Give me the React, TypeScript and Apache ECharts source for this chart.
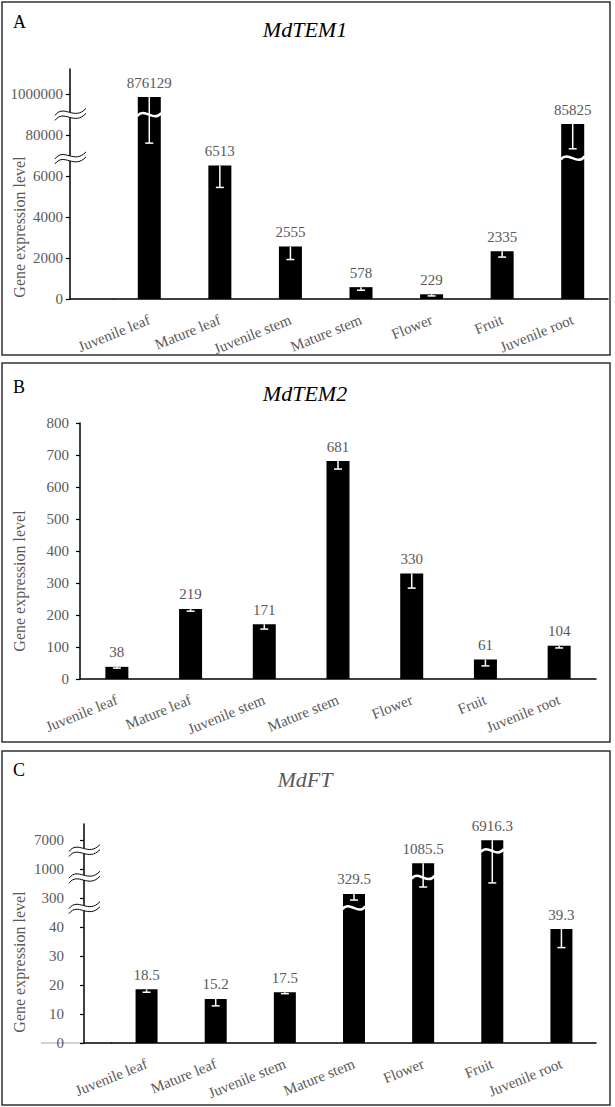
import React, { useEffect, useRef } from 'react';
import * as echarts from 'echarts';

const categories = ['Juvenile leaf', 'Mature leaf', 'Juvenile stem', 'Mature stem', 'Flower', 'Fruit', 'Juvenile root'];

// Panel A: MdTEM1 (broken axis)
const tem1Values = [876129, 6513, 2555, 578, 229, 2335, 85825];
const tem1Errors = [825000, 1070, 630, 150, 80, 290, 55000];
const tem1TickLabels = [0, 2000, 4000, 6000, 80000, 1000000];
// broken-axis scale: value knots and their axis positions
const tem1KnotValues = [0, 6000, 7000, 80000, 90000, 1000000];
const tem1KnotPos = [0, 3, 3.5, 4, 4.46, 5];
const tem1Breaks = [3.43, 4.49];

// Panel B: MdTEM2
const tem2Values = [38, 219, 171, 681, 330, 61, 104];
const tem2Errors = [4, 7, 15, 25, 46, 20, 7];

// Panel C: MdFT (broken axis)
const ftValues = [18.5, 15.2, 17.5, 329.5, 1085.5, 6916.3, 39.3];
const ftErrors = [1, 2.4, 0.5, 48, 705, 6460, 6.4];
const ftTickLabels = [0, 10, 20, 30, 40, 300, 1000, 7000];
const ftKnotValues = [0, 40, 300, 400, 1000, 1200, 7000];
const ftKnotPos = [0, 4, 5, 5.47, 6, 6.46, 7];
const ftBreaks = [4.65, 5.7, 6.62];

const FONT = "'Liberation Serif', 'Times New Roman', serif";
const GREY = '#595959';

function knotScale(v: number, kv: number[], kp: number[]): number {
  for (let i = 0; i < kv.length - 1; i++) {
    if (v <= kv[i + 1] || i === kv.length - 2) {
      return kp[i] + ((v - kv[i]) / (kv[i + 1] - kv[i])) * (kp[i + 1] - kp[i]);
    }
  }
  return 0;
}

function buildPanel(
  idx: number,
  values: number[],
  errors: number[],
  tickLabels: number[] | null,
  knots: [number[], number[]] | null,
  breaks: number[],
  max: number,
  interval: number,
  offset: number,
  labelMargin: number,
  barWidth: number
) {
  const map = (v: number) => (knots ? knotScale(v, knots[0], knots[1]) : v);
  const disp = values.map(map);
  const errData = values.map((v, i) => [i, map(v), map(Math.max(v - errors[i], 0))]);
  const waveData: number[][] = [];
  disp.forEach((d, i) => {
    const below = breaks.filter((b) => b < d);
    if (below.length) waveData.push([i, below[below.length - 1]]);
  });
  const tickVals: number[] = [];
  for (let v = 0; v <= max + 1e-9; v += interval) tickVals.push(+v.toFixed(6));

  const xAxis = {
    type: 'category',
    gridIndex: idx,
    data: categories,
    axisTick: { show: false },
    axisLine: { lineStyle: { color: '#000', width: 1.5 } },
    axisLabel: { rotate: 22, margin: 20, color: GREY, fontSize: 15, fontFamily: FONT, interval: 0 },
  };
  const yAxis = {
    type: 'value',
    gridIndex: idx,
    min: 0,
    max,
    interval,
    offset,
    splitLine: { show: false },
    axisLine: { show: true, lineStyle: { color: '#000', width: 1.5 } },
    axisTick: { show: true, length: 4, inside: false, lineStyle: { color: '#000', width: 1.2 }, customValues: tickVals },
    axisLabel: {
      color: GREY,
      fontSize: 15,
      fontFamily: FONT,
      margin: labelMargin,
      customValues: tickVals,
      formatter: (v: number) => {
        if (tickLabels) {
          const r = Math.round(v);
          return Math.abs(v - r) < 1e-6 && tickLabels[r] !== undefined ? String(tickLabels[r]) : '';
        }
        return Math.abs(v % interval) < 1e-6 ? String(v) : '';
      },
    },
  };
  const series: any[] = [
    {
      type: 'bar',
      xAxisIndex: idx,
      yAxisIndex: idx,
      data: disp,
      barWidth,
      itemStyle: { color: '#000' },
      label: {
        show: true,
        position: 'top',
        distance: 7,
        color: GREY,
        fontSize: 15,
        fontFamily: FONT,
        formatter: (p: any) => String(values[p.dataIndex]),
      },
      z: 2,
    },
    {
      type: 'custom',
      xAxisIndex: idx,
      yAxisIndex: idx,
      data: errData,
      z: 4,
      renderItem: (params: any, api: any) => {
        const p1 = api.coord([api.value(0), api.value(1)]);
        const p2 = api.coord([api.value(0), api.value(2)]);
        return {
          type: 'group',
          children: [
            { type: 'line', shape: { x1: p1[0], y1: p1[1], x2: p2[0], y2: p2[1] }, style: { stroke: '#fff', lineWidth: 1.5 } },
            { type: 'line', shape: { x1: p2[0] - 4, y1: p2[1], x2: p2[0] + 4, y2: p2[1] }, style: { stroke: '#fff', lineWidth: 1.5 } },
          ],
        };
      },
    },
  ];
  if (waveData.length) {
    series.push({
      type: 'custom',
      xAxisIndex: idx,
      yAxisIndex: idx,
      data: waveData,
      z: 5,
      renderItem: (params: any, api: any) => {
        const p = api.coord([api.value(0), api.value(1)]);
        const cx = p[0];
        const y = p[1];
        const h = barWidth / 2 + 0.5;
        return {
          type: 'bezierCurve',
          shape: { x1: cx - h, y1: y + 1, cpx1: cx - 4, cpy1: y - 8, cpx2: cx + 4, cpy2: y + 8, x2: cx + h, y2: y - 2 },
          style: { stroke: '#fff', lineWidth: 2.5, fill: null },
        };
      },
    });
  }
  if (breaks.length) {
    series.push({
      type: 'custom',
      xAxisIndex: idx,
      yAxisIndex: idx,
      data: breaks.map((b) => [0, b]),
      z: 6,
      renderItem: (params: any, api: any) => {
        const y = api.coord([0, api.value(1)])[1];
        const ax = params.coordSys.x - offset;
        const mk = (dy: number, stroke: string, lw: number) => ({
          type: 'bezierCurve',
          shape: { x1: ax - 15, y1: y + 3 + dy, cpx1: ax - 6, cpy1: y - 9 + dy, cpx2: ax + 4, cpy2: y + 9 + dy, x2: ax + 16, y2: y - 4 + dy },
          style: { stroke, lineWidth: lw, fill: null },
        });
        return { type: 'group', children: [mk(0, '#fff', 5), mk(-2.5, '#000', 1), mk(2.5, '#000', 1)] };
      },
    });
  }
  return { xAxis, yAxis, series };
}

export default function App() {
  const ref = useRef<HTMLDivElement>(null);
  useEffect(() => {
    if (!ref.current) return;
    const chart = echarts.init(ref.current, undefined, { renderer: 'svg' });
    const a = buildPanel(0, tem1Values, tem1Errors, tem1TickLabels, [tem1KnotValues, tem1KnotPos], tem1Breaks, 230 / 41, 1, 44, 7, 23);
    const b = buildPanel(1, tem2Values, tem2Errors, null, null, [], 800, 100, 0, 11, 23);
    const c = buildPanel(2, ftValues, ftErrors, ftTickLabels, [ftKnotValues, ftKnotPos], ftBreaks, 219 / 29, 1, 28, 20, 22);

    const border = (y: number, h: number) => ({
      type: 'rect',
      shape: { x: 2, y, width: 608, height: h },
      style: { fill: 'none', stroke: '#333', lineWidth: 1.5 },
    });
    const letter = (t: string, y: number) => ({
      type: 'text',
      x: 13,
      y,
      style: { text: t, fill: '#000', font: `18px ${FONT}`, verticalAlign: 'middle', align: 'left' },
    });
    const title = (t: string, y: number, color: string) => ({
      type: 'text',
      x: 305,
      y,
      style: { text: t, fill: color, font: `italic 22px ${FONT}`, verticalAlign: 'middle', align: 'center' },
    });
    const yName = (y: number) => ({
      type: 'text',
      x: 19,
      y,
      rotation: Math.PI / 2,
      style: { text: 'Gene expression level', fill: GREY, font: `16px ${FONT}`, verticalAlign: 'middle', align: 'center' },
    });

    chart.setOption({
      animation: false,
      backgroundColor: '#fff',
      grid: [
        { left: 114, top: 69, width: 494, height: 230 },
        { left: 80, top: 423, width: 516, height: 256 },
        { left: 112, top: 824, width: 484, height: 219 },
      ],
      xAxis: [a.xAxis, b.xAxis, c.xAxis],
      yAxis: [a.yAxis, b.yAxis, c.yAxis],
      series: [...a.series, ...b.series, ...c.series],
      graphic: [
        border(2, 353),
        border(363, 379),
        border(751, 354),
        letter('A', 22),
        letter('B', 387),
        letter('C', 770),
        title('MdTEM1', 29, '#000'),
        title('MdTEM2', 393, '#000'),
        title('MdFT', 779, GREY),
        yName(227),
        yName(581),
        yName(962),
        { type: 'line', shape: { x1: 70, y1: 299, x2: 114, y2: 299 }, style: { stroke: '#000', lineWidth: 1.5 } },
        { type: 'line', shape: { x1: 41, y1: 1043, x2: 84, y2: 1043 }, style: { stroke: '#aaa', lineWidth: 1 } },
        { type: 'line', shape: { x1: 84, y1: 1043, x2: 112, y2: 1043 }, style: { stroke: '#000', lineWidth: 1.5 } },
      ],
    });
    return () => chart.dispose();
  }, []);
  return <div ref={ref} style={{ position: 'absolute', left: 0, top: 0, width: 615, height: 1107 }} />;
}
